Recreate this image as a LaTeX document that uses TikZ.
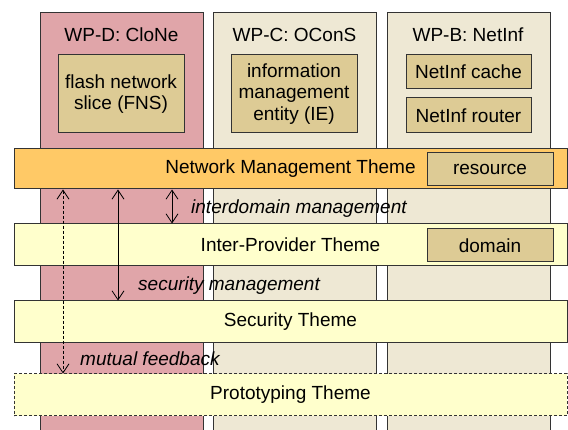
\documentclass[tikz,border=0pt]{standalone}
\usepackage{fontspec}
\setmainfont{Liberation Sans}
\usetikzlibrary{arrows.meta,positioning}
\definecolor{clonepink}{HTML}{E0A5A9}
\definecolor{wpbeige}{HTML}{EEE8D4}
\definecolor{boxtan}{HTML}{DDCB95}
\definecolor{nmorange}{HTML}{FFC966}
\definecolor{paleyellow}{HTML}{FFFFCC}
\definecolor{edgegray}{HTML}{333333}
\tikzset{
  wpcol/.style={draw=edgegray,line width=1pt,anchor=north west,inner sep=0pt,minimum width=163pt,minimum height=440pt},
  inbox/.style={draw=edgegray,line width=1pt,fill=boxtan,inner sep=0pt,minimum width=126pt,align=center},
  theme/.style={draw=edgegray,line width=1pt,fill=paleyellow,inner sep=0pt,minimum width=553pt,minimum height=42pt},
  tag/.style={draw=edgegray,line width=1pt,fill=boxtan,inner sep=0pt,minimum width=126pt,minimum height=33pt},
  relarrow/.style={line width=0.8pt,{Straight Barb[length=9pt,width=12pt]}-{Straight Barb[length=9pt,width=12pt]}},
  rellabel/.style={anchor=west,inner sep=0pt,font=\fontsize{19}{22}\selectfont\itshape}
}
\begin{document}
\begin{tikzpicture}[x=1pt,y=-1pt,every node/.append style={font=\fontsize{19}{21.5}\selectfont}]
\useasboundingbox (0,0) rectangle (568,430);
    %Columnas WP
    \node[wpcol,fill=clonepink] (colD) at (40,12) {};
    \node[wpcol,fill=wpbeige] (colC) at (213,12) {};
    \node[wpcol,fill=wpbeige] (colB) at (387,12) {};
    \node (titD) at (121.5,35) {WP-D: CloNe};
    \node (titC) at (294.5,35) {WP-C: OConS};
    \node (titB) at (468,35) {WP-B: NetInf};

    %Cajas internas
    \node[inbox,minimum height=78pt] (fns) at (121,94) {flash network\\slice (FNS)};
    \node[inbox,minimum height=78pt] (ie) at (294,94) {information\\management\\entity (IE)};
    \node[inbox,minimum width=125pt,minimum height=34pt] (cache) at (468.5,72) {NetInf cache};
    \node[inbox,minimum width=125pt,minimum height=35pt] (router) at (468.5,115.5) {NetInf router};

    %Temas
    \node[theme,fill=nmorange,minimum height=40pt] (nmt) at (290.5,169) {Network Management Theme};
    \node[theme] (ipt) at (290.5,245) {Inter-Provider Theme};
    \node[theme] (sect) at (290.5,322) {Security Theme};
    \node[theme,dash pattern=on 3pt off 2pt] (prot) at (290.5,395) {Prototyping Theme};
    \node[tag] (res) at (490,169.5) {resource};
    \node[tag] (dom) at (490,245.5) {domain};

    %Relaciones
    \coordinate (fbx) at (63,0);
    \coordinate (smx) at (118,0);
    \coordinate (idx) at (172,0);
    \draw[relarrow,dash pattern=on 3pt off 2pt] (nmt.south -| fbx) -- (prot.north -| fbx);
    \draw[relarrow] (nmt.south -| smx) -- (sect.north -| smx);
    \draw[relarrow] (nmt.south -| idx) -- (ipt.north -| idx);
    \node[rellabel] (idl) at (191,209) {interdomain management};
    \node[rellabel] (sml) at (138,286) {security management};
    \node[rellabel] (fbl) at (80,359) {mutual feedback};
\end{tikzpicture}
\end{document}
